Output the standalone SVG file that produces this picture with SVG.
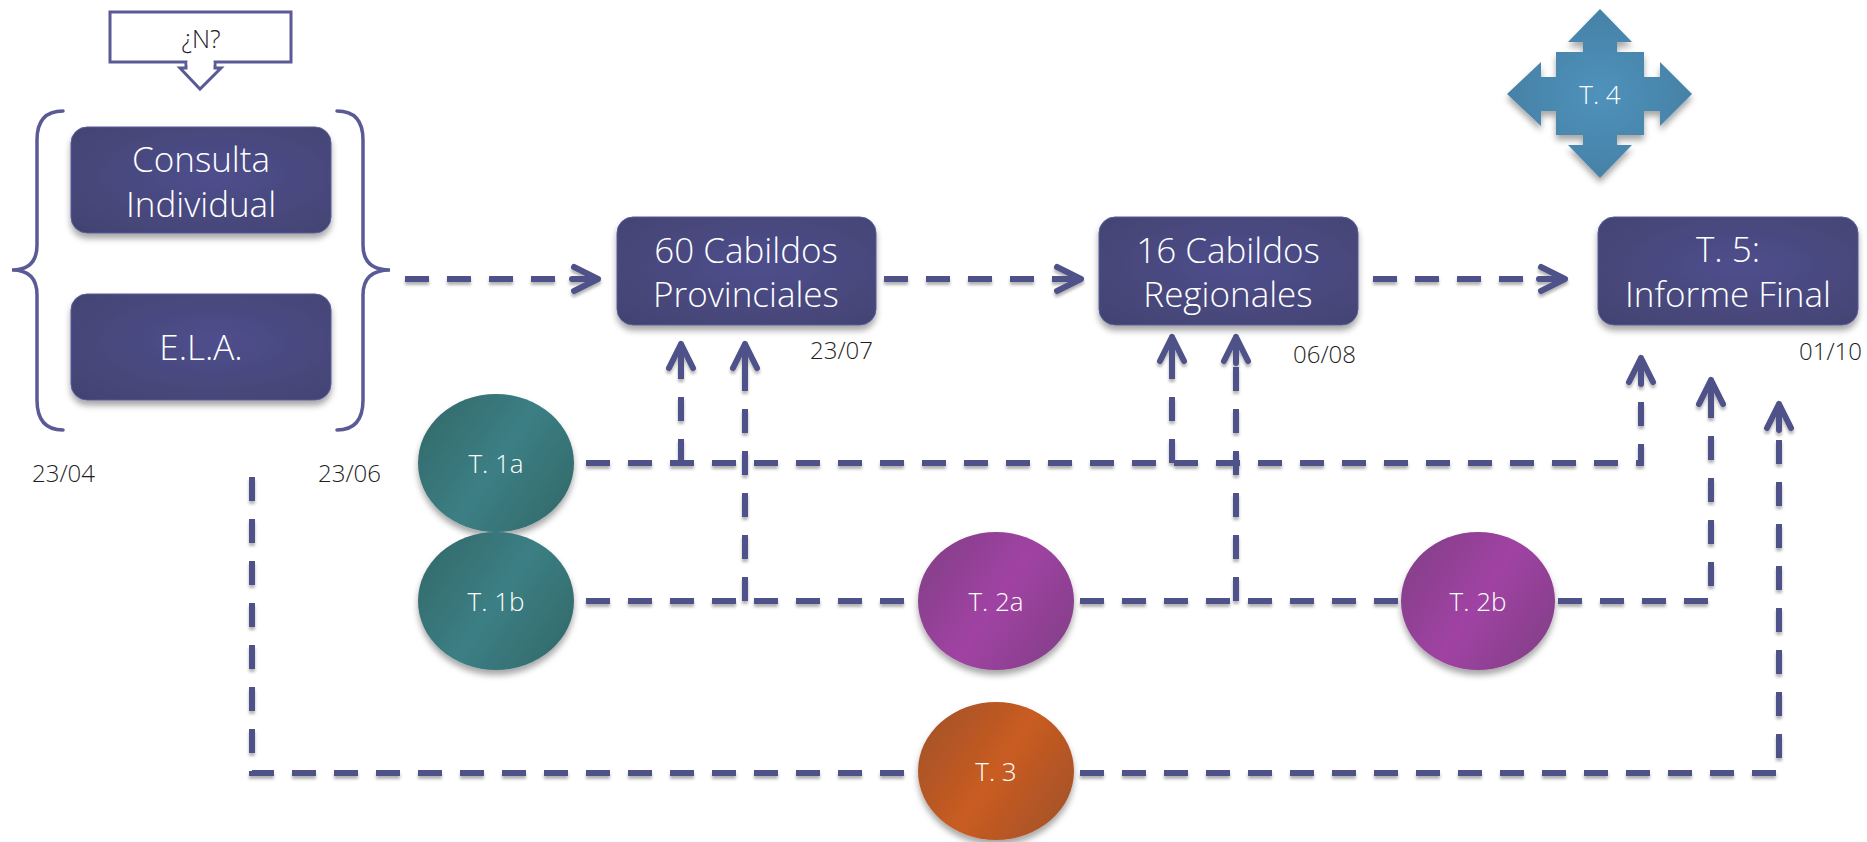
<svg xmlns="http://www.w3.org/2000/svg" width="1867" height="842" viewBox="0 0 1867 842">
  <defs>
    <style>
      .box { fill: url(#boxGrad); stroke: #5b5a99; stroke-width: 1; filter: url(#shadow); }
      .boxtxt { font-family: "Open Sans", "Noto Sans", sans-serif; font-weight: 300; font-size: 35px; fill: #ffffff; text-anchor: middle; }
      .ctxt { font-family: "Open Sans", "Noto Sans", sans-serif; font-weight: 300; font-size: 26px; fill: #ffffff; text-anchor: middle; }
      .date { font-family: "Open Sans", "Noto Sans", sans-serif; font-weight: 300; font-size: 24px; fill: #1e1e1e; }
      .dateR { text-anchor: end; }
      .dash { fill: none; stroke: #4f5189; stroke-width: 6; stroke-dasharray: 24 18; }
      .arr { fill: none; stroke: #4f5189; stroke-width: 6; stroke-dasharray: 24 18; marker-end: url(#chev); }
      .brace { fill: none; stroke: #5a5a96; stroke-width: 3.5; stroke-linecap: round; }
      .ell { filter: url(#shadow); }
    </style>
    <radialGradient id="boxGrad" cx="0.55" cy="0.45" r="0.75">
      <stop offset="0" stop-color="#4f4e8d"/>
      <stop offset="1" stop-color="#424371"/>
    </radialGradient>
    <linearGradient id="teal" x1="0" y1="0.2" x2="1" y2="0.8">
      <stop offset="0" stop-color="#346a6c"/>
      <stop offset="0.5" stop-color="#3b7f84"/>
      <stop offset="1" stop-color="#346a6c"/>
    </linearGradient>
    <linearGradient id="purple" x1="0" y1="0.2" x2="1" y2="0.8">
      <stop offset="0" stop-color="#843f88"/>
      <stop offset="0.5" stop-color="#a043a3"/>
      <stop offset="1" stop-color="#843f88"/>
    </linearGradient>
    <linearGradient id="orange" x1="0" y1="0.2" x2="1" y2="0.8">
      <stop offset="0" stop-color="#a5522a"/>
      <stop offset="0.5" stop-color="#c95c20"/>
      <stop offset="1" stop-color="#a5522a"/>
    </linearGradient>
    <radialGradient id="blueGrad" cx="0.5" cy="0.5" r="0.6">
      <stop offset="0" stop-color="#4f92bb"/>
      <stop offset="1" stop-color="#447ea3"/>
    </radialGradient>
    <filter id="shadow" x="-20%" y="-20%" width="140%" height="150%">
      <feDropShadow dx="0" dy="5" stdDeviation="3" flood-color="#000000" flood-opacity="0.35"/>
    </filter>
    <filter id="lshadow" x="-10%" y="-10%" width="120%" height="120%">
      <feDropShadow dx="0" dy="3" stdDeviation="1.8" flood-color="#000000" flood-opacity="0.3"/>
    </filter>
    <marker id="chev" markerUnits="userSpaceOnUse" viewBox="-30 -16 34 32" markerWidth="34" markerHeight="32" refX="0" refY="0" orient="auto" overflow="visible">
      <path d="M -24 -12 L 0 0 L -24 12 M -26 0 L 0 0" fill="none" stroke="#4f5189" stroke-width="6" stroke-linecap="round" stroke-linejoin="round"/>
    </marker>
  </defs>

  <rect x="0" y="0" width="1867" height="842" fill="#ffffff"/>

  <g id="connectors" filter="url(#lshadow)">
    <path class="arr" d="M 405 279 L 598 279"/>
    <path class="arr" d="M 884 279 L 1081 279"/>
    <path class="arr" d="M 1373 279 L 1565 279"/>
    <path class="arr" d="M 586 463 L 1641 463 L 1641 358"/>
    <path class="arr" d="M 681 463 L 681 344"/>
    <path class="arr" d="M 1172 463 L 1172 337"/>
    <path class="dash" d="M 586 601 L 918 601"/>
    <path class="arr" d="M 745 601 L 745 344"/>
    <path class="dash" d="M 1080 601 L 1401 601"/>
    <path class="arr" d="M 1236 601 L 1236 337"/>
    <path class="arr" d="M 1558 601 L 1711 601 L 1711 380"/>
    <path class="dash" d="M 252 477 L 252 773 L 918 773"/>
    <path class="arr" d="M 1080 773 L 1779 773 L 1779 404"/>
  </g>

  <g id="n-question">
    <rect x="110" y="12" width="181" height="50" fill="#ffffff" stroke="#5a5a96" stroke-width="3"/>
    <path d="M 186 62 L 186 68 L 180 68 L 200 89 L 221 68 L 215 68 L 215 62" fill="#ffffff" stroke="#5a5a96" stroke-width="3" stroke-linejoin="miter"/>
    <rect x="187.5" y="59" width="26" height="6" fill="#ffffff"/>
    <text x="201" y="48" font-family="Open Sans, Noto Sans, sans-serif" font-weight="300" font-size="25" fill="#222222" text-anchor="middle">¿N?</text>
  </g>

  <g id="n-braces">
    <path class="brace" d="M 63 111 Q 37 111 37 140 L 37 245 Q 37 270 12 270 Q 37 270 37 295 L 37 400 Q 37 430 63 430"/>
    <path class="brace" d="M 337 111 Q 363 111 363 140 L 363 245 Q 363 270 390 270 Q 363 270 363 295 L 363 400 Q 363 430 337 430"/>
  </g>

  <g id="n-consulta">
    <rect class="box" x="71" y="127" width="260" height="106" rx="16"/>
    <text class="boxtxt" x="201" y="172">Consulta</text>
    <text class="boxtxt" x="201" y="217">Individual</text>
  </g>

  <g id="n-ela">
    <rect class="box" x="71" y="294" width="260" height="106" rx="16"/>
    <text class="boxtxt" x="201" y="360">E.L.A.</text>
  </g>

  <g id="n-provinciales">
    <rect class="box" x="617" y="217" width="259" height="108" rx="16"/>
    <text class="boxtxt" x="746" y="263">60 Cabildos</text>
    <text class="boxtxt" x="746" y="307">Provinciales</text>
  </g>

  <g id="n-regionales">
    <rect class="box" x="1099" y="217" width="259" height="108" rx="16"/>
    <text class="boxtxt" x="1228" y="263">16 Cabildos</text>
    <text class="boxtxt" x="1228" y="307">Regionales</text>
  </g>

  <g id="n-t5">
    <rect class="box" x="1598" y="217" width="260" height="108" rx="16"/>
    <text class="boxtxt" x="1728" y="262">T. 5:</text>
    <text class="boxtxt" x="1728" y="307">Informe Final</text>
  </g>

  <g id="n-t4">
    <path filter="url(#shadow)" fill="url(#blueGrad)" d="M 1600 9 L 1632 42 L 1617 42 L 1617 52 L 1644 52 L 1644 77 L 1660 77 L 1660 62 L 1692 94 L 1660 126 L 1660 111 L 1644 111 L 1644 135 L 1617 135 L 1617 145 L 1632 145 L 1600 178 L 1568 145 L 1583 145 L 1583 135 L 1556 135 L 1556 111 L 1541 111 L 1541 126 L 1507 94 L 1541 62 L 1541 77 L 1556 77 L 1556 52 L 1583 52 L 1583 42 L 1568 42 Z"/>
    <text class="ctxt" x="1600" y="104" font-size="29">T. 4</text>
  </g>

  <g id="n-t1a">
    <ellipse class="ell" cx="496" cy="463" rx="78" ry="69" fill="url(#teal)"/>
    <text class="ctxt" x="496" y="473">T. 1a</text>
  </g>

  <g id="n-t1b">
    <ellipse class="ell" cx="496" cy="601" rx="78" ry="69" fill="url(#teal)"/>
    <text class="ctxt" x="496" y="611">T. 1b</text>
  </g>

  <g id="n-t2a">
    <ellipse class="ell" cx="996" cy="601" rx="78" ry="69" fill="url(#purple)"/>
    <text class="ctxt" x="996" y="611">T. 2a</text>
  </g>

  <g id="n-t2b">
    <ellipse class="ell" cx="1478" cy="601" rx="77" ry="69" fill="url(#purple)"/>
    <text class="ctxt" x="1478" y="611">T. 2b</text>
  </g>

  <g id="n-t3">
    <ellipse class="ell" cx="996" cy="771" rx="78" ry="69" fill="url(#orange)"/>
    <text class="ctxt" x="996" y="781">T. 3</text>
  </g>

  <g id="dates">
    <text class="date" x="32" y="482">23/04</text>
    <text class="date" x="318" y="482">23/06</text>
    <text class="date dateR" x="873" y="359">23/07</text>
    <text class="date dateR" x="1356" y="363">06/08</text>
    <text class="date dateR" x="1862" y="360">01/10</text>
  </g>
</svg>
